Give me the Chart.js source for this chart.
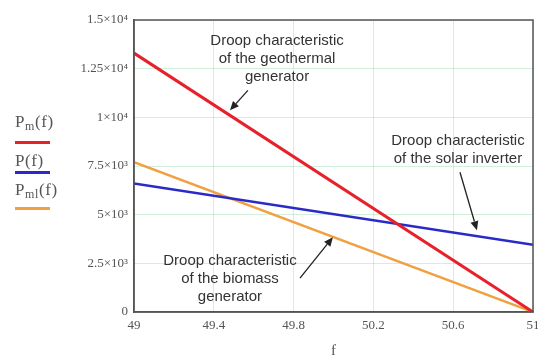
<!DOCTYPE html>
<html>
<head>
<meta charset="utf-8">
<script src="https://cdn.jsdelivr.net/npm/chart.js@4.4.1/dist/chart.umd.min.js"></script>
<style>
  html, body { margin: 0; padding: 0; background: #fff; }
  #wrap { position: relative; width: 538px; height: 359px; overflow: hidden; }
  #c { position: absolute; left: 0; top: 0; }
  .note { position: absolute; font-family: "Liberation Sans", Arial, sans-serif; font-size: 15px; line-height: 18px; color: #333; text-align: center; white-space: nowrap; transform: translate(-50%, -9px); }
  .leg { position: absolute; left: 15px; font-family: "Liberation Serif", "Times New Roman", serif; font-size: 17px; line-height: 20px; letter-spacing: 0.6px; color: #555; white-space: nowrap; }
  .leg sub { font-size: 12px; vertical-align: -3px; }
  .legline { position: absolute; left: 15px; width: 35px; height: 2.5px; }
</style>
</head>
<body>
<div id="wrap">
  <canvas id="c" width="538" height="359"></canvas>
  <div class="leg" style="top:112px">P<sub>m</sub>(f)</div>
  <div class="legline" style="top:141px;background:#e8202a"></div>
  <div class="leg" style="top:151px">P(f)</div>
  <div class="legline" style="top:171px;background:#2a2ac8"></div>
  <div class="leg" style="top:180px">P<sub>ml</sub>(f)</div>
  <div class="legline" style="top:207px;background:#f0a040"></div>
</div>
<script>
// ---- data ----
const freq = [49, 51];
const pmGeothermal = [13300, 0];
const pSolar = [6600, 3450];
const pmlBiomass = [7700, 0];
const xTicks = [49, 49.4, 49.8, 50.2, 50.6, 51];
const xTickLabels = ['49', '49.4', '49.8', '50.2', '50.6', '51'];
const yTicks = [0, 2500, 5000, 7500, 10000, 12500, 15000];
const yTickLabels = ['0', '2.5×10³', '5×10³', '7.5×10³', '1×10⁴', '1.25×10⁴', '1.5×10⁴'];

// annotations (data coordinates)
const noteTexts = [
  ['Droop characteristic', 'of the geothermal', 'generator'],
  ['Droop characteristic', 'of the solar inverter'],
  ['Droop characteristic', 'of the biomass', 'generator']
];
const noteAnchorX = [49.717, 50.624, 49.481];
const noteAnchorY = [13949, 8821, 2667];
const arrowFromX = [49.571, 50.634, 49.832];
const arrowFromY = [11385, 7179, 1744];
const arrowToX = [49.481, 50.719, 49.997];
const arrowToY = [10359, 4205, 3846];

const toPts = (ys) => freq.map((f, i) => ({ x: f, y: ys[i] }));

const wrap = document.getElementById('wrap');
const noteEls = noteTexts.map(lines => {
  const d = document.createElement('div');
  d.className = 'note';
  d.innerHTML = lines.join('<br>');
  wrap.appendChild(d);
  return d;
});

const extras = {
  id: 'extras',
  afterDraw(chart) {
    const { ctx, chartArea: a, scales: { x, y } } = chart;
    ctx.save();
    // box frame
    ctx.strokeStyle = '#555';
    ctx.lineWidth = 1.5;
    ctx.strokeRect(a.left, a.top, a.right - a.left, a.bottom - a.top);
    // arrows
    ctx.strokeStyle = '#222';
    ctx.fillStyle = '#222';
    ctx.lineWidth = 1.3;
    for (let i = 0; i < arrowFromX.length; i++) {
      const x0 = x.getPixelForValue(arrowFromX[i]), y0 = y.getPixelForValue(arrowFromY[i]);
      const x1 = x.getPixelForValue(arrowToX[i]), y1 = y.getPixelForValue(arrowToY[i]);
      const ang = Math.atan2(y1 - y0, x1 - x0);
      const hl = 9, hw = 4;
      const bx = x1 - hl * Math.cos(ang), by = y1 - hl * Math.sin(ang);
      ctx.beginPath(); ctx.moveTo(x0, y0); ctx.lineTo(bx, by); ctx.stroke();
      ctx.beginPath();
      ctx.moveTo(x1, y1);
      ctx.lineTo(bx + hw * Math.sin(ang), by - hw * Math.cos(ang));
      ctx.lineTo(bx - hw * Math.sin(ang), by + hw * Math.cos(ang));
      ctx.closePath(); ctx.fill();
    }
    ctx.restore();
    // position note texts
    noteEls.forEach((el, i) => {
      el.style.left = x.getPixelForValue(noteAnchorX[i]) + 'px';
      el.style.top = y.getPixelForValue(noteAnchorY[i]) + 'px';
    });
  }
};

const tickFont = { family: "'Liberation Serif', 'Times New Roman', serif", size: 13 };
const gridColor = 'rgba(140, 215, 165, 0.4)';

new Chart(document.getElementById('c'), {
  type: 'scatter',
  data: {
    datasets: [
      { label: 'Pm(f)', data: toPts(pmGeothermal), showLine: true, borderColor: '#e8202a', borderWidth: 3, pointRadius: 0 },
      { label: 'P(f)', data: toPts(pSolar), showLine: true, borderColor: '#2a2ac8', borderWidth: 2.5, pointRadius: 0 },
      { label: 'Pml(f)', data: toPts(pmlBiomass), showLine: true, borderColor: '#f0a040', borderWidth: 2.5, pointRadius: 0 }
    ]
  },
  options: {
    responsive: false,
    animation: false,
    events: [],
    layout: { padding: { top: 20, right: 5, bottom: 0, left: 0 } },
    plugins: { legend: { display: false }, tooltip: { enabled: false } },
    scales: {
      x: {
        type: 'linear', min: 49, max: 51,
        afterBuildTicks: s => { s.ticks = xTicks.map(v => ({ value: v })); },
        afterFit: s => { s.height = 47; s.paddingLeft = 0; s.paddingRight = 0; },
        ticks: {
          font: tickFont, color: '#555', padding: 6, maxRotation: 0, autoSkip: false,
          callback: (v) => { const i = xTicks.indexOf(v); return i >= 0 ? xTickLabels[i] : ''; }
        },
        grid: { color: gridColor, lineWidth: 1, drawTicks: false },
        border: { display: true, color: '#555', width: 1.5 },
        title: { display: true, text: 'f', font: { family: "'Liberation Serif', serif", size: 15, lineHeight: 1 }, color: '#555', padding: { top: 0, bottom: 0 } }
      },
      y: {
        type: 'linear', min: 0, max: 15000,
        afterBuildTicks: s => { s.ticks = yTicks.map(v => ({ value: v })); },
        afterFit: s => { s.width = 134; },
        ticks: {
          font: tickFont, color: '#555', padding: 6, autoSkip: false,
          callback: (v) => { const i = yTicks.indexOf(v); return i >= 0 ? yTickLabels[i] : ''; }
        },
        grid: { color: gridColor, lineWidth: 1, drawTicks: false },
        border: { display: true, color: '#555', width: 1.5 }
      }
    }
  },
  plugins: [extras]
});
</script>
</body>
</html>
